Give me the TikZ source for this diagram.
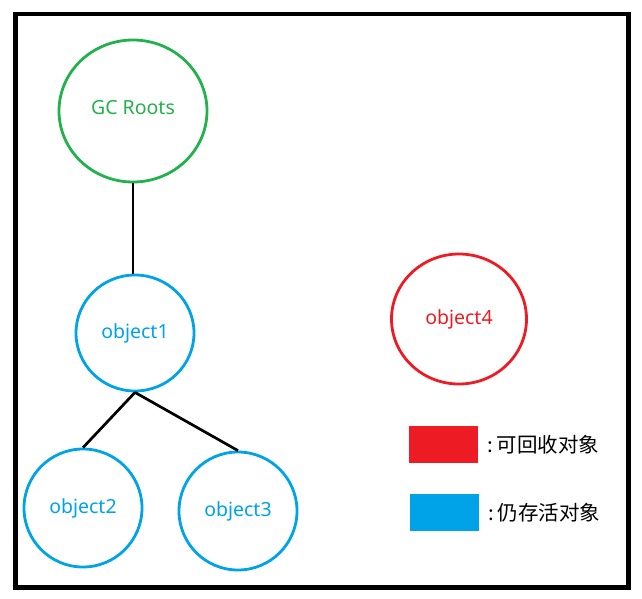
\documentclass[tikz,border=0pt]{standalone}
\usepackage{fontspec}
\setmainfont{Noto Sans}
\newfontfamily\cjkfont{Noto Sans CJK SC}
\usetikzlibrary{shapes.geometric, positioning}
\definecolor{colRoot}{RGB}{34,177,76}
\definecolor{colLive}{RGB}{0,162,232}
\definecolor{colDead}{RGB}{237,28,36}

\begin{document}
\begin{tikzpicture}[
  x=1pt, y=-1pt,
  obj/.style={ellipse, draw, line width=2.8pt, inner sep=0pt,
              font=\fontsize{19.5}{21}\selectfont},
  root/.style={obj, draw=colRoot, text=colRoot},
  live/.style={obj, draw=colLive, text=colLive},
  dead/.style={obj, draw=colDead, text=colDead},
  swatch/.style={rectangle, inner sep=0pt, minimum width=69pt, minimum height=37pt},
  legtext/.style={font=\cjkfont\fontsize{20.5}{22}\selectfont, inner sep=0pt},
  link/.style={line width=2.7pt},
]
\useasboundingbox (0,0) rectangle (642,598);
\draw[line width=4.5pt] (15.5,14) rectangle (628.5,587.5);

% objects
\node[root, minimum width=148pt, minimum height=142pt] (roots) at (133,111) {\raisebox{7pt}{GC Roots}};
\node[live, minimum width=118pt, minimum height=116pt] (obj1) at (135,333) {object1};
\node[live, minimum width=118pt, minimum height=118pt] (obj2) at (83,508) {object2};
\node[live, minimum width=118pt, minimum height=118pt] (obj3) at (238,511) {object3};
\node[dead, minimum width=135pt, minimum height=130pt] (obj4) at (459,319) {object4};

% legend
\node[swatch, fill=colDead] (keyDead) at (443.5,444.5) {};
\node[swatch, fill=colLive] (keyLive) at (444.5,512.5) {};
\node[legtext, right=9pt of keyDead] (txtDead) {:\,可回收对象};
\node[legtext, right=9pt of keyLive] (txtLive) {:\,仍存活对象};

% references
\draw[link] (roots.south) -- (roots.south |- obj1.north);
\draw[link] (obj1.south) -- (obj2.north);
\draw[link] (obj1.south) -- (obj3.north);

\end{tikzpicture}
\end{document}
